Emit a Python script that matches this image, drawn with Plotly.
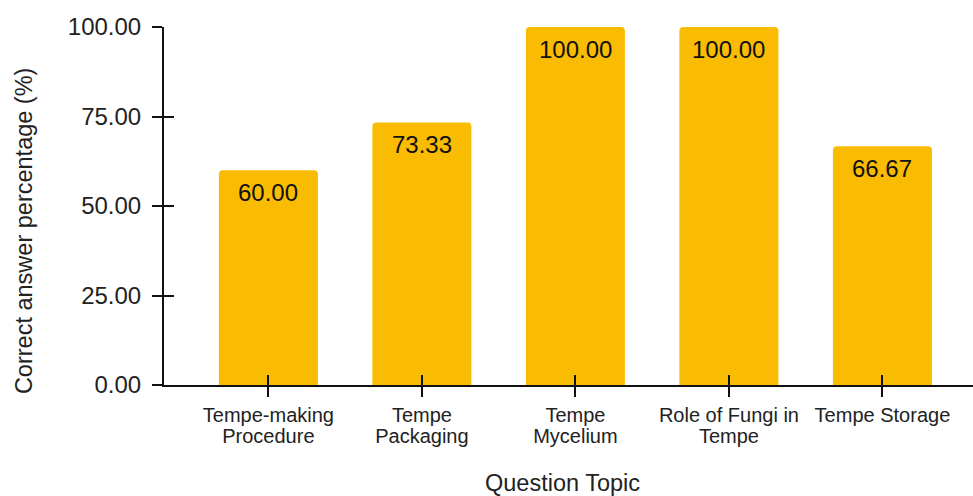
import plotly.graph_objects as go

categories_line1 = ["Tempe-making", "Tempe", "Tempe", "Role of Fungi in", "Tempe Storage"]
categories_line2 = ["Procedure", "Packaging", "Mycelium", "Tempe", ""]
values = [60.00, 73.33, 100.00, 100.00, 66.67]
y_ticks = [0, 25, 50, 75, 100]

FONT = "Liberation Sans, Arial, sans-serif"
BAR = "#F9BC02"
TXT = "#222222"
xr = [-0.68, 4.59]
yr = [0, 100]
xpos = list(range(len(values)))

fig = go.Figure()
fig.add_trace(go.Bar(
    x=xpos, y=values, width=0.645,
    marker=dict(color=BAR, line=dict(width=0), cornerradius=4),
    hoverinfo="skip", showlegend=False,
))
fig.add_trace(go.Scatter(x=[0], y=[0], xaxis="x2", yaxis="y2", mode="markers",
                         marker=dict(opacity=0), hoverinfo="skip", showlegend=False))

annotations = [
    dict(x=i, y=v, xref="x", yref="y", text=f"{v:.2f}", showarrow=False,
         yanchor="top", yshift=-7, font=dict(family=FONT, size=24, color="#111"))
    for i, v in zip(xpos, values)
]
annotations.append(dict(x=-0.173, y=0.43, xref="paper", yref="paper",
                        text="Correct answer percentage (%)", textangle=-90, showarrow=False,
                        xanchor="center", yanchor="middle",
                        font=dict(family=FONT, size=23.5, color=TXT)))
annotations.append(dict(x=0.493, y=-0.275, xref="paper", yref="paper",
                        text="Question Topic", showarrow=False,
                        xanchor="center", yanchor="middle",
                        font=dict(family=FONT, size=23.5, color=TXT)))

fig.update_layout(
    width=973, height=496,
    margin=dict(l=164, r=0, t=27, b=111),
    plot_bgcolor="white", paper_bgcolor="white",
    annotations=annotations,
    xaxis=dict(range=xr, tickmode="array", tickvals=xpos,
               ticktext=categories_line1, ticks="outside", ticklen=10, tickwidth=2, tickcolor="#111",
               showline=True, linecolor="#111", linewidth=2, showgrid=False, zeroline=False,
               ticklabelstandoff=1,
               tickfont=dict(family=FONT, size=20, color=TXT)),
    yaxis=dict(range=yr, tickmode="array", tickvals=y_ticks,
               ticktext=[f"{v:.2f}" for v in y_ticks], ticks="outside", ticklen=10, tickwidth=2,
               tickcolor="#111", showline=True, linecolor="#111", linewidth=2, showgrid=False,
               zeroline=False, ticklabelstandoff=6,
               tickfont=dict(family=FONT, size=24, color=TXT)),
    xaxis2=dict(range=xr, overlaying="x", tickmode="array", tickvals=xpos,
                ticktext=categories_line2, ticks="inside", ticklen=10, tickwidth=2, tickcolor="#111",
                showticklabels=True, ticklabelstandoff=37,
                tickfont=dict(family=FONT, size=20, color=TXT),
                showgrid=False, zeroline=False, showline=False, side="bottom", anchor="y2"),
    yaxis2=dict(range=yr, overlaying="y", tickmode="array", tickvals=y_ticks,
                ticks="inside", ticklen=10, tickwidth=2, tickcolor="#111", showticklabels=False,
                showgrid=False, zeroline=False, showline=False, side="left", anchor="x2"),
)
fig.write_html("out.html")
